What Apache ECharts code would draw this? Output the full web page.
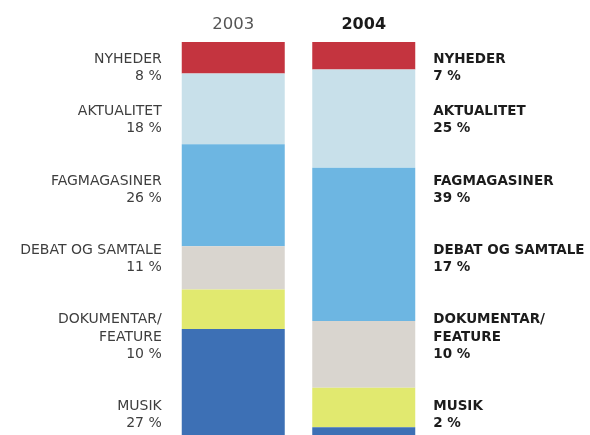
<!DOCTYPE html>
<html>
<head>
<meta charset="utf-8">
<script src="https://cdn.jsdelivr.net/npm/echarts@6/dist/echarts.min.js"></script>
<style>
  html, body { margin: 0; padding: 0; background: #fff; }
  #chart { width: 590px; height: 435px; }
</style>
</head>
<body>
<div id="chart"></div>
<script>
const years = ['2003', '2004'];
const genres = ['NYHEDER', 'AKTUALITET', 'FAGMAGASINER', 'DEBAT OG SAMTALE', 'DOKUMENTAR/\nFEATURE', 'MUSIK'];
const share2003 = [8, 18, 26, 11, 10, 27];
const share2004 = [7, 25, 39, 17, 10, 2];

const colors = ['#c4343f', '#c8e0ea', '#6db6e2', '#d9d5cf', '#e1e96f', '#3d70b5'];
// vertical centre (px) of each label block, shared by both columns
const labelY = [68, 120, 190, 259, 337, 415];

const font = '"DejaVu Sans", sans-serif';

const leftLabel = {
  show: true, position: 'left', distance: 20, align: 'right',
  color: '#3e3e3e', fontFamily: font, fontSize: 14, lineHeight: 17.5,
  formatter: p => p.seriesName + '\n' + p.value + ' %'
};
const rightLabel = {
  show: true, position: 'right', distance: 18, align: 'left',
  color: '#1c1c1c', fontWeight: 'bold', fontFamily: font, fontSize: 13.5, lineHeight: 17.5,
  formatter: p => p.seriesName + '\n' + p.value + ' %'
};

const chart = echarts.init(document.getElementById('chart'));

const buildSeries = (offsets) => genres.map((g, i) => ({
  name: g,
  type: 'bar',
  stack: 'total',
  barWidth: 103,
  itemStyle: { color: colors[i] },
  emphasis: { disabled: true },
  data: [
    { value: share2003[i], label: Object.assign({}, leftLabel, { offset: [0, offsets ? offsets[0][i] : 0] }) },
    { value: share2004[i], label: Object.assign({}, rightLabel, { offset: [0, offsets ? offsets[1][i] : 0] }) }
  ]
}));

chart.setOption({
  animation: false,
  grid: { left: 168, width: 261, top: 42, height: 395 },
  xAxis: {
    type: 'category',
    data: years,
    position: 'top',
    axisLine: { show: false },
    axisTick: { show: false },
    axisLabel: {
      margin: 9,
      fontFamily: font,
      formatter: (v, idx) => idx === 0 ? '{a|' + v + '}' : '{b|' + v + '}',
      rich: {
        a: { fontSize: 16.5, color: '#555', fontFamily: font },
        b: { fontSize: 16, color: '#1a1a1a', fontWeight: 'bold', fontFamily: font }
      }
    }
  },
  yAxis: { type: 'value', inverse: true, min: 0, max: 100, show: false },
  series: buildSeries(null)
});

// shift each label from its segment centre to the shared label row
const offsets = [share2003, share2004].map((vals, col) => {
  let acc = 0;
  return vals.map((v, i) => {
    const mid = chart.convertToPixel({ gridIndex: 0 }, [col, acc + v / 2])[1];
    acc += v;
    return labelY[i] - mid;
  });
});
chart.setOption({ series: buildSeries(offsets) });
</script>
</body>
</html>
